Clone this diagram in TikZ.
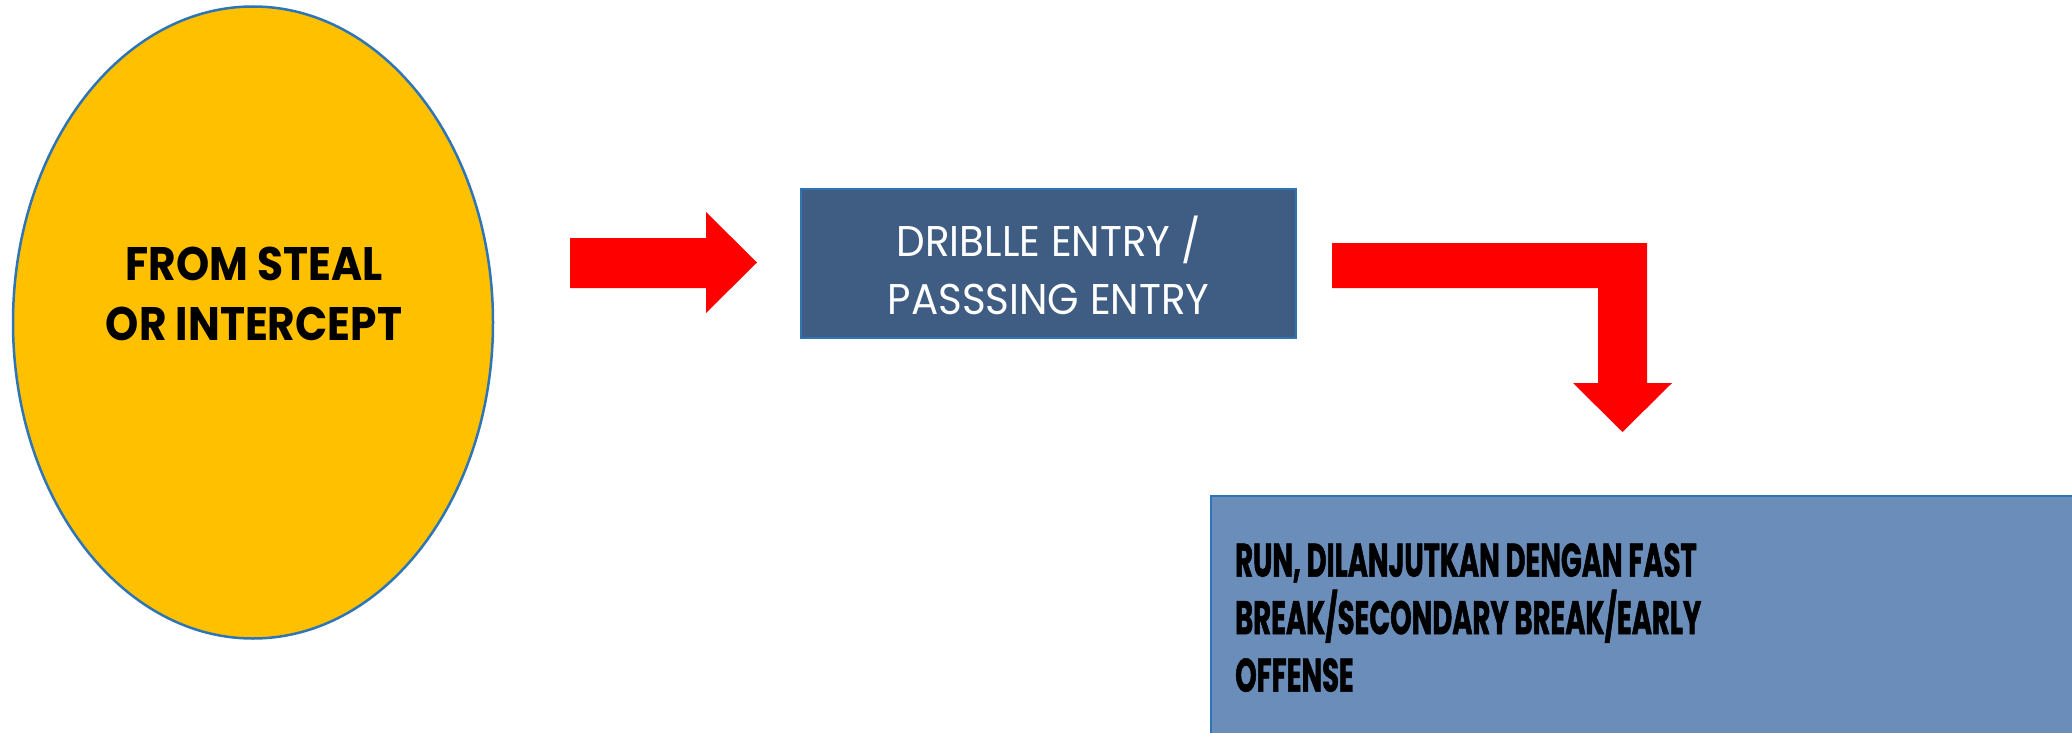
\documentclass[tikz,border=0pt]{standalone}
\usepackage{fontspec}
\setmainfont{Poppins}
\newfontfamily\ellfont[FakeStretch=0.9]{Poppins}
\newfontfamily\condfont[FakeStretch=0.583,FakeBold=1]{Poppins}
\newfontfamily\lightfont[FakeStretch=0.94]{Poppins}
\usetikzlibrary{shapes.geometric}
\definecolor{gold}{HTML}{FFC000}
\definecolor{bord}{HTML}{2E75B6}
\definecolor{darkbox}{HTML}{3F5C83}
\definecolor{lightbox}{HTML}{6A8DBA}
\definecolor{arrowred}{HTML}{FF0000}
\tikzset{
  outline/.style={draw=bord, line width=2.5pt},
  blockarrow/.style={fill=arrowred, draw=none},
  boldtext/.style={inner sep=0pt, text=black},
}
\begin{document}
\begin{tikzpicture}[x=1pt,y=1pt]
\useasboundingbox (0,0) rectangle (2072,-733);
\fill[white] (0,0) rectangle (2072,-733);
\clip (0,0) rectangle (2072,-733);
% ellipse
\node[ellipse, outline, fill=gold, minimum width=480pt, minimum height=632pt, inner sep=0pt] (steal) at (253,-322.5) {};
\node[boldtext, align=center, font=\ellfont\bfseries\fontsize{47}{60}\selectfont] (stealtext) at (254,-293.5) {FROM STEAL\\OR INTERCEPT};
% box 1
\node[rectangle, outline, fill=darkbox, minimum width=495pt, minimum height=149pt, inner sep=0pt] (entry) at (1048.5,-263.5) {};
\node[inner sep=0pt, text=white, align=center, font=\lightfont\fontsize{43}{57.5}\selectfont] (entrytext) at (1048.5,-265.5) {DRIBLLE ENTRY /\\PASSSING ENTRY};
% box 2
\draw[outline, fill=lightbox] (1211,-496) rectangle (2095,-750);
\coordinate (run) at (1211,-496);
\node[boldtext, anchor=north west, align=left, font=\condfont\bfseries\fontsize{47}{57.5}\selectfont] (runtext) at (1235,-543) {RUN, DILANJUTKAN DENGAN FAST\\BREAK/SECONDARY BREAK/EARLY\\OFFENSE};
% arrow 1
\fill[blockarrow] (570,-238) -- (706,-238) -- (706,-212) -- (757,-262.5) -- (706,-313) -- (706,-288) -- (570,-288) -- cycle;
% bent arrow
\fill[blockarrow] (1332,-243) -- (1647,-243) -- (1647,-383) -- (1672,-383) -- (1622.5,-432) -- (1573,-383) -- (1598,-383) -- (1598,-288) -- (1332,-288) -- cycle;
\end{tikzpicture}
\end{document}
